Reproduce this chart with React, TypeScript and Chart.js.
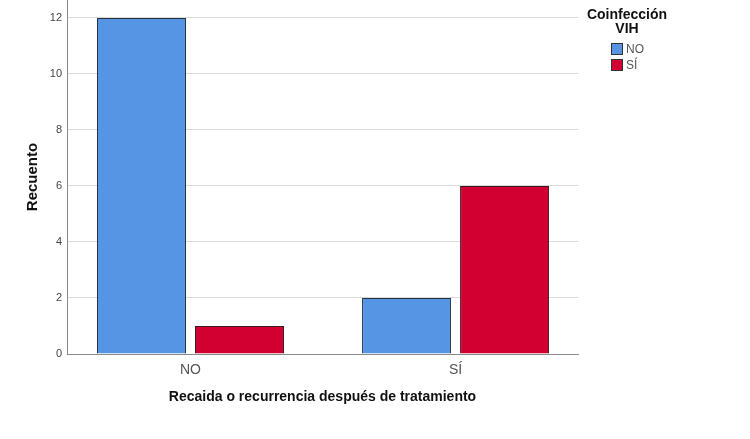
import React, { useEffect, useRef } from "react";
import { Chart, registerables } from "chart.js";

Chart.register(...registerables);

const categories = ["NO", "SÍ"];
const seriesNames = ["NO", "SÍ"];
const countsVihNo = [12, 2];
const countsVihSi = [1, 6];
const seriesColors = ["#5694E4", "#D20030"];
const yTickStep = 2;
const yMax = 12.64;
const xStart = -0.466;
const xRange = 1.928;

const FONT = "'Liberation Sans', Arial, sans-serif";

export default function App() {
  const ref = useRef<HTMLCanvasElement | null>(null);

  useEffect(() => {
    document.body.style.margin = "0";
    const canvas = ref.current;
    if (!canvas) return;
    const chart = new Chart(canvas, {
      type: "bar",
      data: {
        labels: categories,
        datasets: [
          {
            label: seriesNames[0],
            data: countsVihNo,
            backgroundColor: seriesColors[0],
            borderColor: "#263240",
            borderWidth: 1,
            categoryPercentage: 0.7396,
            barPercentage: 0.908,
          },
          {
            label: seriesNames[1],
            data: countsVihSi,
            backgroundColor: seriesColors[1],
            borderColor: "#3a1a22",
            borderWidth: 1,
            categoryPercentage: 0.7396,
            barPercentage: 0.908,
          },
        ],
      },
      options: {
        animation: false,
        responsive: false,
        maintainAspectRatio: false,
        layout: { padding: { left: 0, top: 0, right: 172, bottom: 0 } },
        plugins: {
          legend: { display: false },
          tooltip: { enabled: false },
        },
        scales: {
          x: {
            offset: true,
            grid: { display: false, drawTicks: false },
            border: { display: true, color: "#8a8a8a", width: 1 },
            ticks: {
              color: "#555",
              padding: 8,
              font: { family: FONT, size: 14 },
            },
            title: {
              display: true,
              text: "Recaida o recurrencia después de tratamiento",
              color: "#111",
              font: { family: FONT, size: 14, weight: "bold" },
              padding: { top: 0, bottom: 33.6 },
            },
            afterBuildTicks: (scale: any) => {
              scale._startValue = xStart;
              scale._valueRange = xRange;
            },
            afterFit: (scale: any) => {
              scale.height = 85;
              scale.paddingLeft = 0;
              scale.paddingRight = 0;
            },
          },
          y: {
            min: 0,
            max: yMax,
            grid: { color: "#d9d9d9", lineWidth: 1, drawTicks: false },
            border: { display: true, color: "#8a8a8a", width: 1 },
            ticks: {
              stepSize: yTickStep,
              color: "#444",
              padding: 5,
              font: { family: FONT, size: 11 },
            },
            title: {
              display: true,
              text: "Recuento",
              color: "#111",
              font: { family: FONT, size: 15, weight: "bold" },
              padding: { top: 24, bottom: 0 },
            },
            afterBuildTicks: (scale: any) => {
              scale.ticks = scale.ticks.filter(
                (t: any) => Math.abs(t.value / yTickStep - Math.round(t.value / yTickStep)) < 1e-6
              );
            },
            afterFit: (scale: any) => {
              scale.width = 67;
              scale.paddingTop = 0;
              scale.paddingBottom = 0;
            },
          },
        },
      },
    });
    return () => chart.destroy();
  }, []);

  const legendRow = (name: string, color: string, top: number) => (
    <div key={name} style={{ position: "absolute", left: 611, top, height: 12, display: "flex", alignItems: "center" }}>
      <div style={{ width: 10, height: 10, background: color, border: "1px solid #333", boxSizing: "content-box" }} />
      <span style={{ marginLeft: 3, fontFamily: FONT, fontSize: 12, color: "#555", lineHeight: "12px" }}>{name}</span>
    </div>
  );

  return (
    <div style={{ position: "fixed", left: 0, top: 0, width: 750, height: 439, background: "#fff" }}>
      <canvas ref={ref} width={750} height={439} style={{ display: "block", width: 750, height: 439 }} />
      <div
        style={{
          position: "absolute",
          left: 577,
          top: 7,
          width: 100,
          textAlign: "center",
          fontFamily: FONT,
          fontWeight: "bold",
          fontSize: 14,
          lineHeight: "14px",
          color: "#111",
        }}
      >
        Coinfección
        <br />
        VIH
      </div>
      {legendRow(seriesNames[0], seriesColors[0], 43)}
      {legendRow(seriesNames[1], seriesColors[1], 59)}
    </div>
  );
}
